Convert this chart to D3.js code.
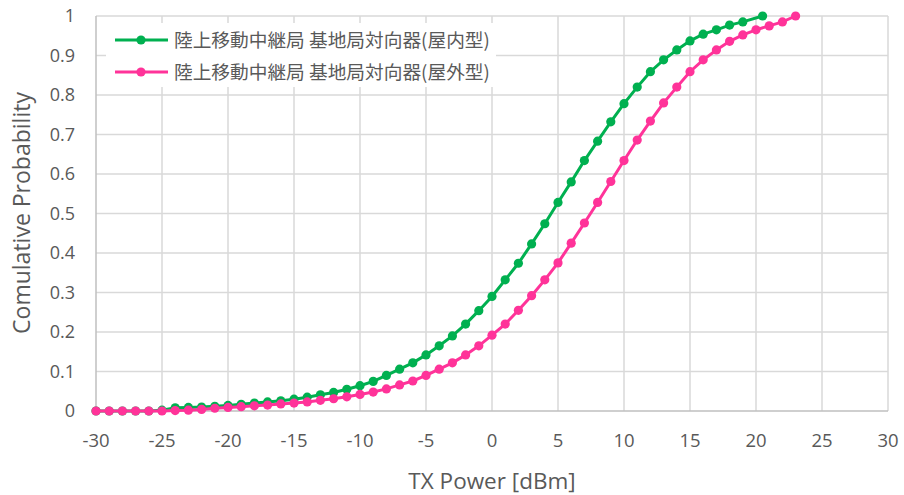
<!DOCTYPE html>
<html><head><meta charset="utf-8">
<script src="https://cdn.jsdelivr.net/npm/d3@7"></script>
<style>body{margin:0;background:#fff}svg{display:block}</style>
</head><body>
<script>
const xTicks = [-30,-25,-20,-15,-10,-5,0,5,10,15,20,25,30];
const yTicks = [0,0.1,0.2,0.3,0.4,0.5,0.6,0.7,0.8,0.9,1];
const seriesNames = ["陸上移動中継局 基地局対向器(屋内型)", "陸上移動中継局 基地局対向器(屋外型)"];
const indoorX = [-30,-29,-28,-27,-26,-25,-24,-23,-22,-21,-20,-19,-18,-17,-16,-15,-14,-13,-12,-11,-10,-9,-8,-7,-6,-5,-4,-3,-2,-1,0,1,2,3,4,5,6,7,8,9,10,11,12,13,14,15,16,17,18,19,20.5];
const indoorY = [0,0,0,0,0,0.002,0.008,0.009,0.010,0.012,0.014,0.017,0.020,0.023,0.026,0.030,0.035,0.041,0.047,0.055,0.064,0.075,0.090,0.106,0.122,0.142,0.165,0.190,0.220,0.254,0.290,0.332,0.374,0.423,0.474,0.528,0.580,0.634,0.683,0.732,0.778,0.820,0.859,0.889,0.914,0.937,0.954,0.965,0.977,0.985,1.0];
const outdoorX = [-30,-29,-28,-27,-26,-25,-24,-23,-22,-21,-20,-19,-18,-17,-16,-15,-14,-13,-12,-11,-10,-9,-8,-7,-6,-5,-4,-3,-2,-1,0,1,2,3,4,5,6,7,8,9,10,11,12,13,14,15,16,17,18,19,20,21,22,23];
const outdoorY = [0,0,0,0,0,0,0.001,0.002,0.004,0.007,0.009,0.011,0.013,0.015,0.018,0.020,0.023,0.027,0.031,0.036,0.042,0.048,0.056,0.066,0.076,0.090,0.106,0.122,0.142,0.165,0.192,0.220,0.255,0.292,0.332,0.375,0.425,0.476,0.528,0.581,0.634,0.686,0.734,0.780,0.820,0.859,0.889,0.914,0.936,0.952,0.965,0.975,0.985,1.0];
const colors = ["#00b050", "#ff3399"];

const W = 904, H = 495;
const svg = d3.select("body").append("svg").attr("width", W).attr("height", H);
const x = d3.scaleLinear().domain([-30, 30]).range([96, 888]);
const y = d3.scaleLinear().domain([0, 1]).range([411, 16]);

// grid
svg.append("g").selectAll("line").data(yTicks.filter(d => d > 0)).join("line")
  .attr("x1", x(-30)).attr("x2", x(30)).attr("y1", d => y(d)).attr("y2", d => y(d))
  .attr("stroke", "#d9d9d9").attr("stroke-width", 1.5);
svg.append("g").selectAll("line").data(xTicks.filter(d => d > -30)).join("line")
  .attr("y1", y(0)).attr("y2", y(1)).attr("x1", d => x(d)).attr("x2", d => x(d))
  .attr("stroke", "#d9d9d9").attr("stroke-width", 1.5);
// axes lines
svg.append("line").attr("x1", x(-30)).attr("x2", x(30)).attr("y1", y(0)).attr("y2", y(0))
  .attr("stroke", "#bfbfbf").attr("stroke-width", 1.5);
svg.append("line").attr("x1", x(-30)).attr("x2", x(-30)).attr("y1", y(0)).attr("y2", y(1))
  .attr("stroke", "#bfbfbf").attr("stroke-width", 1.5);

// y tick labels
svg.append("g").selectAll("text").data(yTicks).join("text")
  .attr("x", 75).attr("y", d => y(d)).attr("dy", "0.35em")
  .attr("text-anchor", "end").attr("font-family", "Open Sans").attr("font-size", 18)
  .attr("fill", "#595959").text(d => d3.format("~g")(d));
// x tick labels
svg.append("g").selectAll("text").data(xTicks).join("text")
  .attr("x", d => x(d)).attr("y", 441).attr("dy", "0.35em")
  .attr("text-anchor", "middle").attr("font-family", "Open Sans").attr("font-size", 18.5)
  .attr("fill", "#595959").text(d => d);
// axis titles
svg.append("text").attr("x", 492).attr("y", 481).attr("dy", "0.35em")
  .attr("text-anchor", "middle").attr("font-family", "Open Sans").attr("font-size", 22.5)
  .attr("fill", "#595959").text("TX Power [dBm]");
svg.append("text").attr("transform", "translate(22,213) rotate(-90)").attr("dy", "0.35em")
  .attr("text-anchor", "middle").attr("font-family", "Open Sans").attr("font-size", 23)
  .attr("fill", "#595959").text("Comulative Probability");

// series
const series = [
  {name: seriesNames[0], xs: indoorX, ys: indoorY, color: colors[0]},
  {name: seriesNames[1], xs: outdoorX, ys: outdoorY, color: colors[1]}
];
const line = d3.line().x(d => x(d[0])).y(d => y(d[1]));
series.forEach(s => {
  const pts = s.xs.map((v, i) => [v, s.ys[i]]);
  const g = svg.append("g");
  g.append("path").datum(pts).attr("d", line).attr("fill", "none")
    .attr("stroke", s.color).attr("stroke-width", 3);
  g.selectAll("circle").data(pts).join("circle")
    .attr("cx", d => x(d[0])).attr("cy", d => y(d[1])).attr("r", 4.6).attr("fill", s.color);
});

// legend
const lg = svg.append("g");
lg.append("rect").attr("x", 106).attr("y", 23).attr("width", 390).attr("height", 64).attr("fill", "#fff");
series.forEach((s, i) => {
  const ly = 40 + i * 32;
  lg.append("line").attr("x1", 115).attr("x2", 168).attr("y1", ly).attr("y2", ly)
    .attr("stroke", s.color).attr("stroke-width", 3);
  lg.append("circle").attr("cx", 141).attr("cy", ly).attr("r", 4.6).attr("fill", s.color);
  lg.append("text").attr("x", 174).attr("y", ly).attr("dy", "0.36em")
    .attr("font-family", "Noto Sans CJK JP").attr("font-size", 18.7).attr("fill", "#595959")
    .text(s.name);
});
</script>
</body></html>
